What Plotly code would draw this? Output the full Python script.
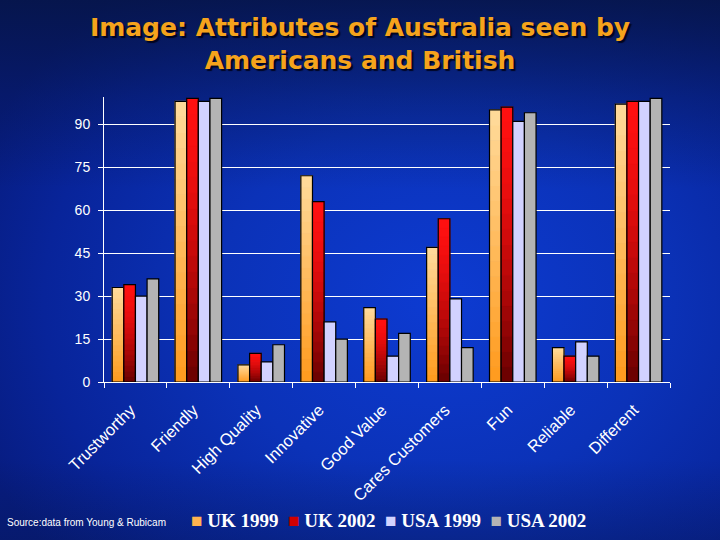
import base64
import plotly.graph_objects as go

# ---------------- data ----------------
categories = ["Trustworthy", "Friendly", "High Quality", "Innovative", "Good Value",
              "Cares Customers", "Fun", "Reliable", "Different"]
series_names = ["UK 1999", "UK 2002", "USA 1999", "USA 2002"]
uk_1999 = [33, 98, 6, 72, 26, 47, 95, 12, 97]
uk_2002 = [34, 99, 10, 63, 22, 57, 96, 9, 98]
usa_1999 = [30, 98, 7, 21, 9, 29, 91, 14, 98]
usa_2002 = [36, 99, 13, 15, 17, 12, 94, 9, 99]
y_ticks = [0, 15, 30, 45, 60, 75, 90]
title_text = "Image: Attributes of Australia seen by<br>Americans and British"
source_text = "Source:data from Young & Rubicam"

# ---------------- styling ----------------
W, H = 720, 540
L, R, T, B = 104, 50, 97, 158
PW, PH = W - L - R, H - T - B
bar_w = 0.185
left_edges = [-0.37, -0.185, 0.0, 0.185]
N_SEG = 18


def hex2rgb(h):
    h = h.lstrip("#")
    return tuple(int(h[i:i + 2], 16) for i in (0, 2, 4))


def mix(c1, c2, t):
    a, b = hex2rgb(c1), hex2rgb(c2)
    return "rgb(%d,%d,%d)" % tuple(round(a[i] + (b[i] - a[i]) * t) for i in range(3))


# (kind, top colour, bottom colour, curve, legend swatch colour)
styles = [
    ("grad", "#ffdb9c", "#ff9a1c", 1.0, "#ffb450"),
    ("grad", "#ff1010", "#660000", 1.6, "#d00000"),
    ("flat", "#d2d2ff", None, None, "#d2d2ff"),
    ("flat", "#b4b4b4", None, None, "#b4b4b4"),
]
all_values = [uk_1999, uk_2002, usa_1999, usa_2002]

fig = go.Figure()

for si, (vals, st) in enumerate(zip(all_values, styles)):
    kind, ctop, cbot, curve, swatch = st
    if kind == "grad":
        xs, ys, bases, cols = [], [], [], []
        for k in range(N_SEG):
            tfrac = 1 - (k + 0.5) / N_SEG  # 0 at top, 1 at bottom
            col = mix(ctop, cbot, tfrac ** curve)
            for c, v in zip(categories, vals):
                xs.append(c)
                ys.append(v / N_SEG)
                bases.append(v * k / N_SEG)
                cols.append(col)
        fig.add_trace(go.Bar(x=xs, y=ys, base=bases, width=bar_w, offset=left_edges[si],
                             marker=dict(color=cols, line=dict(width=1, color=cols)),
                             showlegend=False, hoverinfo="skip"))
        fig.add_trace(go.Bar(x=categories, y=vals, width=bar_w, offset=left_edges[si],
                             name=series_names[si],
                             marker=dict(color="rgba(0,0,0,0)", line=dict(color="black", width=1.2)),
                             showlegend=False))
    else:
        fig.add_trace(go.Bar(x=categories, y=vals, width=bar_w, offset=left_edges[si],
                             name=series_names[si],
                             marker=dict(color=ctop, line=dict(color="black", width=1.2)),
                             showlegend=False))

# background: gradient as an inline SVG
svg = f"""<svg xmlns='http://www.w3.org/2000/svg' width='{W}' height='{H}' viewBox='0 0 {W} {H}'>
<defs>
<radialGradient id='g' gradientUnits='userSpaceOnUse' cx='440' cy='300' r='430'
 gradientTransform='translate(440 300) scale(1.15 0.95) translate(-440 -300)'>
<stop offset='0' stop-color='#0d3bd2'/>
<stop offset='0.45' stop-color='#0b32b8'/>
<stop offset='0.8' stop-color='#08249a'/>
<stop offset='1' stop-color='#071c80'/>
</radialGradient>
<linearGradient id='v' x1='0' y1='0' x2='0' y2='1'>
<stop offset='0' stop-color='#061444' stop-opacity='0.85'/>
<stop offset='0.18' stop-color='#061444' stop-opacity='0.35'/>
<stop offset='0.35' stop-color='#061444' stop-opacity='0'/>
<stop offset='0.85' stop-color='#061444' stop-opacity='0'/>
<stop offset='1' stop-color='#061444' stop-opacity='0.3'/>
</linearGradient>
</defs>
<rect width='{W}' height='{H}' fill='url(#g)'/>
<rect width='{W}' height='{H}' fill='url(#v)'/></svg>"""
src = "data:image/svg+xml;base64," + base64.b64encode(svg.encode()).decode()

legend_html = "  ".join(
    f"<span style='color:{st[4]};font-size:19px'>■</span> {n}" for n, st in zip(series_names, styles)
)

fig.update_layout(
    width=W, height=H,
    margin=dict(l=L, r=R, t=T, b=B),
    paper_bgcolor="#0a2590",
    plot_bgcolor="rgba(0,0,0,0)",
    barmode="overlay",
    title=dict(text=title_text, x=0.5, xanchor="center", xref="container",
               y=1 - 36 / H, yanchor="top", yref="container",
               font=dict(family="DejaVu Sans, sans-serif", size=25,
                         color="#f5a31c", weight="bold",
                         shadow="2px 2px 1px rgba(0,0,20,0.85)")),
    images=[dict(source=src, xref="paper", yref="paper", x=-L / PW, y=1 + T / PH,
                 sizex=W / PW, sizey=H / PH, sizing="stretch", layer="below",
                 xanchor="left", yanchor="top")],
    xaxis=dict(type="category", categoryorder="array", categoryarray=categories,
               range=[-0.5, len(categories) - 0.5],
               showline=True, linecolor="white", linewidth=1,
               ticks="outside", tickson="boundaries", ticklen=5, tickcolor="white",
               tickangle=-45, ticklabelstandoff=11, ticklabelshift=-5,
               tickfont=dict(family="Liberation Sans, Arial, sans-serif", size=16.5, color="white"),
               showgrid=False),
    yaxis=dict(range=[0, 99.5], tickvals=y_ticks,
               showline=True, linecolor="white", linewidth=1,
               ticks="outside", ticklen=5, tickcolor="white",
               showgrid=True, gridcolor="white", gridwidth=1, zeroline=False,
               tickfont=dict(family="Liberation Sans, Arial, sans-serif", size=14, color="white"),
               ticklabelstandoff=5),
    annotations=[
        dict(text=source_text, xref="paper", yref="paper", x=(5 - L) / PW, y=(T + PH - 522) / PH,
             xanchor="left", yanchor="middle", showarrow=False,
             font=dict(family="Liberation Sans, Arial, sans-serif", size=10, color="white")),
        dict(text=legend_html, xref="paper", yref="paper", x=(388 - L) / PW, y=(T + PH - 520) / PH,
             xanchor="center", yanchor="middle", showarrow=False,
             font=dict(family="Liberation Serif, Times New Roman, serif", size=19, color="white",
                       weight="bold")),
    ],
)

fig.write_html("out.html", config={"displayModeBar": False},
               post_script="document.body.style.margin='0';")
